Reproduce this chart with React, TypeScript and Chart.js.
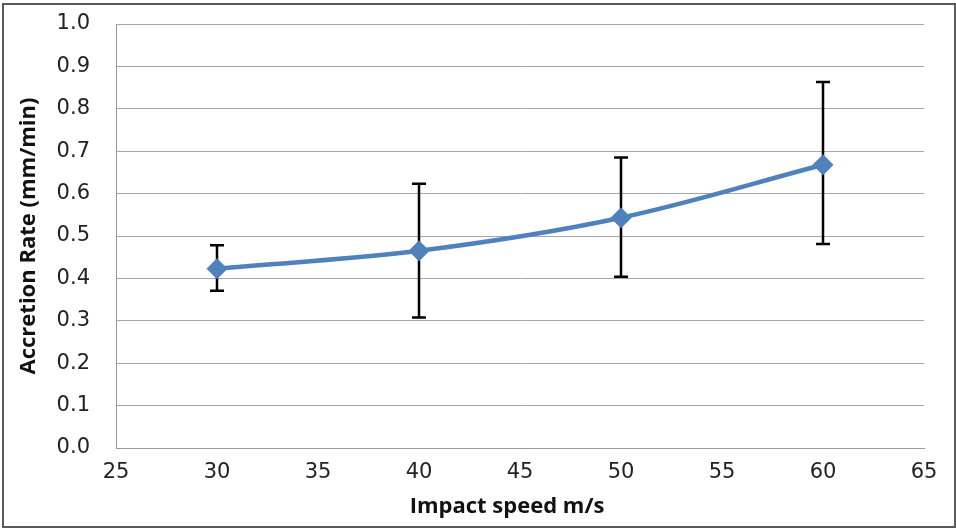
import React, { useEffect, useRef } from "react";
import { Chart, registerables } from "chart.js";

Chart.register(...registerables);

const speeds = [30, 40, 50, 60];
const rates = [0.423, 0.465, 0.543, 0.668];
const errLow = [0.371, 0.308, 0.404, 0.481];
const errHigh = [0.478, 0.623, 0.685, 0.863];
const xTitle = "Impact speed m/s";
const yTitle = "Accretion Rate (mm/min)";

const errorBarPlugin = {
  id: "errorBars",
  beforeDatasetsDraw(chart: any) {
    const { ctx, scales } = chart;
    const xs = scales.x;
    const ys = scales.y;
    ctx.save();
    ctx.strokeStyle = "#000000";
    ctx.lineWidth = 2.5;
    const cap = 7;
    speeds.forEach((s, i) => {
      const x = xs.getPixelForValue(s);
      const y1 = ys.getPixelForValue(errLow[i]);
      const y2 = ys.getPixelForValue(errHigh[i]);
      ctx.beginPath();
      ctx.moveTo(x, y1);
      ctx.lineTo(x, y2);
      ctx.moveTo(x - cap, y1);
      ctx.lineTo(x + cap, y1);
      ctx.moveTo(x - cap, y2);
      ctx.lineTo(x + cap, y2);
      ctx.stroke();
    });
    ctx.restore();
  },
};

const xTitlePlugin = {
  id: "xTitle",
  afterDraw(chart: any) {
    const { ctx, chartArea } = chart;
    ctx.save();
    ctx.font = "bold 22px 'Open Sans'";
    ctx.fillStyle = "#111";
    ctx.textAlign = "center";
    ctx.textBaseline = "middle";
    ctx.fillText(xTitle, chartArea.left + (chartArea.right - chartArea.left) * 0.484, 507);
    ctx.restore();
  },
};

export default function App() {
  const ref = useRef<HTMLCanvasElement>(null);
  useEffect(() => {
    if (!ref.current) return;
    const chart = new Chart(ref.current, {
      type: "line",
      data: {
        datasets: [
          {
            data: speeds.map((s, i) => ({ x: s, y: rates[i] })),
            borderColor: "#4F81BD",
            backgroundColor: "#4F81BD",
            borderWidth: 4.5,
            pointStyle: "rectRot",
            pointRadius: 10,
            pointBorderWidth: 1,
            tension: 0.35,
            fill: false,
          },
        ],
      },
      options: {
        animation: false,
        responsive: false,
        plugins: { legend: { display: false }, tooltip: { enabled: false } },
        layout: { padding: { left: 12, right: 32, top: 24, bottom: 5 } },
        scales: {
          x: {
            type: "linear",
            min: 25,
            max: 65,
            afterFit: (s: any) => {
              s.height = 529 - 5 - 448;
              s.paddingLeft = 0;
              s.paddingRight = 0;
            },
            ticks: {
              stepSize: 5,
              padding: 12,
              color: "#222",
              font: { family: "DejaVu Sans", size: 21 },
            },
            grid: { display: false, drawTicks: false },
            border: { display: true, color: "#999", width: 1 },
            title: { display: false },
          },
          y: {
            min: 0,
            max: 1,
            afterFit: (s: any) => {
              s.width = 116 - 12;
              s.paddingTop = 0;
              s.paddingBottom = 0;
            },
            ticks: {
              stepSize: 0.1,
              padding: 26,
              color: "#222",
              font: { family: "DejaVu Sans", size: 21 },
              callback: (v: any) => Number(v).toFixed(1),
            },
            grid: { color: "#a6a6a6", lineWidth: 1, drawTicks: false },
            border: { display: true, color: "#999", width: 1 },
            title: {
              display: true,
              text: yTitle,
              color: "#111",
              font: { family: "Open Sans", size: 22, weight: "bold" },
              padding: { top: 4, bottom: 4 },
            },
          },
        },
      },
      plugins: [errorBarPlugin, xTitlePlugin],
    });
    return () => chart.destroy();
  }, []);
  return (
    <div style={{ position: "absolute", left: 0, top: 0, width: 956, height: 529, background: "#fff" }}>
      <canvas ref={ref} width={956} height={529} style={{ position: "absolute", left: 0, top: 0 }} />
      <div
        style={{
          position: "absolute",
          left: 2,
          top: 3,
          width: 950,
          height: 521,
          border: "2px solid #5a5a5a",
          pointerEvents: "none",
        }}
      />
    </div>
  );
}
